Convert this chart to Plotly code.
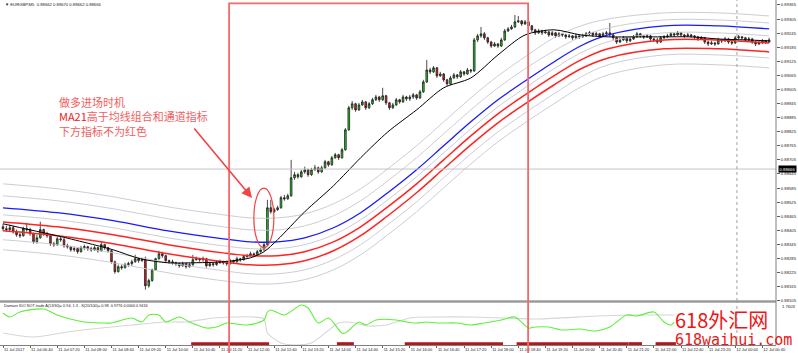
import plotly.graph_objects as go

# ---------------- data : EURGBP M5, 11 Jul 2017 06:00 -> 12 Jul 00:50 ----------------
bar_index = list(range(227))

opens = [
0.88420,0.88412,0.88408,0.88416,0.88399,0.88386,0.88382,0.88412,0.88408,0.88391,
0.88356,0.88373,0.88408,0.88391,0.88382,0.88348,0.88344,0.88369,0.88365,0.88339,
0.88335,0.88322,0.88327,0.88314,0.88331,0.88335,0.88327,0.88322,0.88331,0.88318,
0.88344,0.88331,0.88318,0.88271,0.88229,0.88250,0.88246,0.88259,0.88263,0.88271,
0.88284,0.88276,0.88280,0.88169,0.88191,0.88237,0.88284,0.88305,0.88297,0.88276,
0.88271,0.88267,0.88263,0.88254,0.88263,0.88250,0.88259,0.88280,0.88284,0.88280,
0.88284,0.88254,0.88263,0.88259,0.88267,0.88271,0.88267,0.88263,0.88276,0.88271,
0.88284,0.88280,0.88293,0.88297,0.88305,0.88301,0.88314,0.88322,0.88344,0.88501,
0.88484,0.88493,0.88501,0.88544,0.88539,0.88552,0.88629,0.88642,0.88633,0.88654,
0.88663,0.88642,0.88663,0.88671,0.88654,0.88671,0.88697,0.88684,0.88714,0.88727,
0.88714,0.88748,0.88833,0.88927,0.88944,0.88918,0.88939,0.88952,0.88927,0.88944,
0.88961,0.88973,0.88961,0.88978,0.88948,0.88927,0.88939,0.88961,0.88952,0.88973,
0.88965,
0.88973,0.88982,0.88969,0.88995,0.89037,0.89088,0.89080,0.89097,0.89063,0.89071,
0.89046,0.89029,0.89054,0.89067,0.89059,0.89080,0.89071,0.89088,0.89084,0.89216,
0.89233,0.89242,0.89225,0.89207,0.89190,0.89199,0.89190,0.89216,0.89254,0.89263,
0.89271,0.89293,0.89297,0.89284,0.89293,0.89276,0.89259,0.89246,0.89254,0.89246,
0.89250,0.89237,0.89246,0.89233,0.89242,0.89237,0.89229,0.89233,0.89225,0.89233,
0.89229,0.89233,0.89242,0.89246,0.89237,0.89242,0.89233,0.89242,0.89246,0.89237,
0.89225,0.89207,0.89216,0.89225,0.89212,0.89220,0.89229,0.89242,0.89233,0.89229,
0.89233,
0.89220,
0.89216,0.89207,0.89225,0.89229,0.89233,0.89242,0.89237,0.89246,0.89237,0.89233,
0.89237,0.89233,0.89229,0.89220,0.89225,0.89207,0.89199,0.89203,0.89199,0.89216,
0.89212,0.89220,0.89207,0.89203,0.89225,0.89229,0.89225,0.89216,0.89220,0.89207,
0.89199,0.89203,0.89212,0.89207]

highs = [
0.88433,0.88425,0.88429,0.88425,0.88408,0.88395,0.88420,0.88437,0.88416,0.88395,
0.88386,0.88442,0.88412,0.88399,0.88386,0.88356,0.88378,0.88382,0.88373,0.88348,
0.88339,0.88335,0.88331,0.88339,0.88344,0.88339,0.88335,0.88339,0.88335,0.88356,
0.88348,0.88335,0.88322,0.88276,0.88259,0.88259,0.88267,0.88271,0.88280,0.88301,
0.88288,0.88288,0.88293,0.88199,0.88242,0.88288,0.88318,0.88314,0.88301,0.88280,
0.88280,0.88271,0.88267,0.88271,0.88267,0.88267,0.88301,0.88293,0.88288,0.88293,
0.88288,0.88271,0.88267,0.88276,0.88280,0.88276,0.88276,0.88284,0.88280,0.88293,
0.88288,0.88301,0.88305,0.88314,0.88310,0.88322,0.88331,0.88352,0.88535,0.88535,
0.88501,0.88510,0.88552,0.88556,0.88561,0.88705,0.88654,0.88650,0.88663,0.88676,
0.88667,0.88671,0.88684,0.88676,0.88680,0.88705,0.88701,0.88722,0.88735,0.88731,
0.88756,0.88841,0.88935,0.88956,0.88948,0.88948,0.88961,0.88956,0.88952,0.88969,
0.88982,0.88978,0.89012,0.88982,0.88952,0.88948,0.88969,0.88965,0.88982,0.88978,
0.88982,
0.88990,0.88986,0.89003,0.89046,0.89131,0.89097,0.89105,0.89101,0.89080,0.89075,
0.89050,0.89063,0.89075,0.89071,0.89088,0.89084,0.89097,0.89092,0.89225,0.89242,
0.89271,0.89250,0.89229,0.89212,0.89207,0.89203,0.89225,0.89263,0.89271,0.89280,
0.89322,0.89318,0.89301,0.89301,0.89297,0.89280,0.89263,0.89263,0.89259,0.89259,
0.89254,0.89254,0.89250,0.89250,0.89246,0.89242,0.89242,0.89237,0.89242,0.89237,
0.89242,0.89250,0.89254,0.89250,0.89250,0.89246,0.89250,0.89254,0.89288,0.89242,
0.89229,0.89225,0.89233,0.89229,0.89229,0.89237,0.89250,0.89246,0.89237,0.89242,
0.89237,
0.89225,
0.89225,0.89233,0.89237,0.89242,0.89250,0.89246,0.89254,0.89250,0.89242,0.89246,
0.89242,0.89237,0.89233,0.89233,0.89229,0.89212,0.89212,0.89207,0.89225,0.89220,
0.89229,0.89225,0.89212,0.89233,0.89237,0.89233,0.89229,0.89229,0.89225,0.89212,
0.89212,0.89220,0.89216,0.89225]

lows = [
0.88403,0.88399,0.88399,0.88391,0.88378,0.88373,0.88378,0.88399,0.88382,0.88348,
0.88348,0.88369,0.88382,0.88373,0.88339,0.88335,0.88339,0.88356,0.88331,0.88327,
0.88314,0.88314,0.88305,0.88310,0.88322,0.88318,0.88314,0.88318,0.88310,0.88314,
0.88322,0.88310,0.88263,0.88220,0.88225,0.88237,0.88242,0.88250,0.88254,0.88267,
0.88267,0.88271,0.88152,0.88161,0.88186,0.88233,0.88280,0.88288,0.88267,0.88263,
0.88259,0.88254,0.88246,0.88250,0.88242,0.88246,0.88254,0.88276,0.88271,0.88271,
0.88246,0.88250,0.88250,0.88254,0.88263,0.88259,0.88254,0.88259,0.88263,0.88267,
0.88271,0.88276,0.88288,0.88293,0.88293,0.88297,0.88310,0.88318,0.88339,0.88476,
0.88480,0.88488,0.88497,0.88531,0.88535,0.88548,0.88620,0.88625,0.88629,0.88646,
0.88633,0.88637,0.88659,0.88646,0.88650,0.88667,0.88676,0.88680,0.88710,0.88705,
0.88710,0.88744,0.88829,0.88918,0.88910,0.88914,0.88935,0.88918,0.88922,0.88939,
0.88956,0.88952,0.88956,0.88939,0.88918,0.88922,0.88935,0.88944,0.88948,0.88956,
0.88956,
0.88965,0.88961,0.88965,0.88990,0.89033,0.89071,0.89075,0.89054,0.89059,0.89037,
0.89020,0.89024,0.89050,0.89050,0.89054,0.89063,0.89067,0.89075,0.89080,0.89207,
0.89225,0.89216,0.89199,0.89182,0.89186,0.89182,0.89186,0.89212,0.89250,0.89259,
0.89267,0.89288,0.89276,0.89280,0.89267,0.89250,0.89237,0.89242,0.89237,0.89242,
0.89229,0.89233,0.89225,0.89229,0.89229,0.89220,0.89225,0.89216,0.89220,0.89220,
0.89225,0.89229,0.89237,0.89229,0.89233,0.89225,0.89229,0.89237,0.89229,0.89216,
0.89199,0.89203,0.89212,0.89203,0.89207,0.89216,0.89225,0.89225,0.89220,0.89225,
0.89212,
0.89207,
0.89199,0.89203,0.89220,0.89225,0.89229,0.89229,0.89233,0.89229,0.89225,0.89229,
0.89225,0.89220,0.89212,0.89216,0.89199,0.89190,0.89195,0.89190,0.89195,0.89203,
0.89207,0.89199,0.89195,0.89199,0.89220,0.89216,0.89207,0.89212,0.89199,0.89190,
0.89195,0.89199,0.89199,0.89203]

closes = [
0.88412,0.88408,0.88416,0.88399,0.88386,0.88382,0.88412,0.88408,0.88391,0.88356,
0.88373,0.88408,0.88391,0.88382,0.88348,0.88344,0.88369,0.88365,0.88339,0.88335,
0.88322,0.88327,0.88314,0.88331,0.88335,0.88327,0.88322,0.88331,0.88318,0.88344,
0.88331,0.88318,0.88271,0.88229,0.88250,0.88246,0.88259,0.88263,0.88271,0.88284,
0.88276,0.88280,0.88169,0.88191,0.88237,0.88284,0.88305,0.88297,0.88276,0.88271,
0.88267,0.88263,0.88254,0.88263,0.88250,0.88259,0.88280,0.88284,0.88280,0.88284,
0.88254,0.88263,0.88259,0.88267,0.88271,0.88267,0.88263,0.88276,0.88271,0.88284,
0.88280,0.88293,0.88297,0.88305,0.88301,0.88314,0.88322,0.88344,0.88501,0.88484,
0.88493,0.88501,0.88544,0.88539,0.88552,0.88629,0.88642,0.88633,0.88654,0.88663,
0.88642,0.88663,0.88671,0.88654,0.88671,0.88697,0.88684,0.88714,0.88727,0.88714,
0.88748,0.88833,0.88927,0.88944,0.88918,0.88939,0.88952,0.88927,0.88944,0.88961,
0.88973,0.88961,0.88978,0.88948,0.88927,0.88939,0.88961,0.88952,0.88973,0.88965,
0.88973,
0.88982,0.88969,0.88995,0.89037,0.89088,0.89080,0.89097,0.89063,0.89071,0.89046,
0.89029,0.89054,0.89067,0.89059,0.89080,0.89071,0.89088,0.89084,0.89216,0.89233,
0.89242,0.89225,0.89207,0.89190,0.89199,0.89190,0.89216,0.89254,0.89263,0.89271,
0.89293,0.89297,0.89284,0.89293,0.89276,0.89259,0.89246,0.89254,0.89246,0.89250,
0.89237,0.89246,0.89233,0.89242,0.89237,0.89229,0.89233,0.89225,0.89233,0.89229,
0.89233,0.89242,0.89246,0.89237,0.89242,0.89233,0.89242,0.89246,0.89237,0.89225,
0.89207,0.89216,0.89225,0.89212,0.89220,0.89229,0.89242,0.89233,0.89229,0.89233,
0.89220,
0.89216,
0.89207,0.89225,0.89229,0.89233,0.89242,0.89237,0.89246,0.89237,0.89233,0.89237,
0.89233,0.89229,0.89220,0.89225,0.89207,0.89199,0.89203,0.89199,0.89216,0.89212,
0.89220,0.89207,0.89203,0.89225,0.89229,0.89225,0.89216,0.89220,0.89207,0.89199,
0.89203,0.89212,0.89207,0.89216]

# channel / MA-ribbon lines sampled along the chart (bar index)
line_idx = [0, 16, 32.5, 48.7, 65, 73, 81, 89, 97.5, 105.5, 113.5, 122, 130, 138, 146,
            154, 162.5, 170.5, 178.5, 195, 211, 226]
grey_1 = [0.88603,0.88582,0.88548,0.88505,0.88471,0.88458,0.88458,0.88475,0.88518,0.88582,0.88667,
          0.88765,0.88867,0.88969,0.89063,0.89144,0.89225,0.89276,0.89305,0.89331,0.89331,0.89318]
grey_2 = [0.88552,0.88531,0.88497,0.88454,0.88420,0.88407,0.88407,0.88424,0.88467,0.88531,0.88616,
          0.88714,0.88816,0.88918,0.89012,0.89093,0.89169,0.89229,0.89267,0.89301,0.89301,0.89288]
blue_ma = [0.88501,0.88480,0.88446,0.88403,0.88369,0.88356,0.88356,0.88373,0.88416,0.88480,0.88565,
           0.88663,0.88765,0.88867,0.88961,0.89041,0.89122,0.89191,0.89237,0.89276,0.89276,0.89263]
grey_3 = [0.88471,0.88450,0.88416,0.88373,0.88339,0.88327,0.88327,0.88344,0.88386,0.88450,0.88535,
          0.88633,0.88735,0.88837,0.88931,0.89012,0.89093,0.89161,0.89208,0.89246,0.89246,0.89233]
red_1 = [0.88441,0.88420,0.88386,0.88344,0.88309,0.88297,0.88297,0.88314,0.88356,0.88420,0.88505,
         0.88603,0.88705,0.88807,0.88901,0.88982,0.89063,0.89131,0.89178,0.89216,0.89216,0.89203]
red_2 = [0.88403,0.88382,0.88348,0.88305,0.88271,0.88258,0.88258,0.88275,0.88318,0.88382,0.88467,
         0.88565,0.88667,0.88769,0.88863,0.88944,0.89024,0.89093,0.89139,0.89178,0.89178,0.89165]
grey_4 = [0.88365,0.88344,0.88309,0.88267,0.88233,0.88220,0.88220,0.88237,0.88280,0.88344,0.88429,
          0.88526,0.88629,0.88731,0.88824,0.88905,0.88986,0.89058,0.89110,0.89152,0.89152,0.89139]
grey_5 = [0.88322,0.88301,0.88267,0.88224,0.88190,0.88178,0.88178,0.88195,0.88237,0.88301,0.88386,
          0.88484,0.88586,0.88688,0.88782,0.88863,0.88944,0.89016,0.89067,0.89110,0.89110,0.89097]

ma21_idx = [0, 8, 16, 24.5, 32.5, 40.5, 48.5, 57, 65, 73, 77, 81, 89, 97.5, 105.5, 113.5, 122,
            130, 138, 146, 154, 162.5, 170.5, 178.5, 186.5, 195, 203, 211, 219, 226]
ma21 = [0.88433,0.88407,0.88382,0.88352,0.88322,0.88284,0.88267,0.88267,0.88271,0.88288,0.88314,
        0.88365,0.88484,0.88595,0.88714,0.88824,0.88918,0.89012,0.89054,0.89152,0.89237,0.89259,
        0.89237,0.89229,0.89229,0.89229,0.89229,0.89220,0.89216,0.89212]

bid_price = 0.88666

# Damiani indicator window
ido_green_idx = [0,2,5,12,16,24,29,32,38,41,43,46,48,52,55,60,63,66,72,77,78,79,83,88,90,93,96,
                 100,101,105,107,110,116,119,122,125,128,134,138,142,147,151,155,157,161,165,170,
                 175,179,184,187,192,195,197,198]
ido_green = [1.44,1.26,1.485,1.62,1.35,1.035,0.99,0.99,1.215,1.035,1.35,1.35,1.035,1.26,1.035,
             0.765,0.81,0.99,0.90,1.125,1.485,1.575,1.35,1.80,1.665,0.99,1.215,0.54,0.54,1.035,
             0.90,1.125,1.125,1.035,0.99,1.035,0.99,0.99,0.90,0.99,1.125,1.26,0.765,0.81,0.81,
             0.675,0.72,0.63,0.81,1.35,1.305,1.485,1.035,0.90,1.035]
ido_grey_idx = [0,9,19,29,38,48,54,62,68,74,77,78,82,86,91,99,102,108,113,120,128,138,148,158,
                175,185,198]
ido_grey = [0.54,0.36,0.585,0.765,0.90,1.035,1.035,1.215,1.26,1.26,1.17,0.54,0.09,0.0,0.09,0.99,
            1.035,0.855,0.90,1.215,1.26,1.26,1.215,1.17,1.305,1.35,1.35]
no_trade_spans = [(56, 78), (99, 103), (119, 147), (152, 184), (185, 188), (193, 198)]
no_trade_level = 0.06

tick_idx = list(range(0, 225, 8))
tick_text = ["11 Jul 2017", "11 Jul 06:40", "11 Jul 07:20", "11 Jul 08:00", "11 Jul 08:40",
             "11 Jul 09:20", "11 Jul 10:00", "11 Jul 10:40", "11 Jul 11:20", "11 Jul 12:00",
             "11 Jul 12:40", "11 Jul 13:20", "11 Jul 14:00", "11 Jul 14:40", "11 Jul 15:20",
             "11 Jul 16:00", "11 Jul 16:40", "11 Jul 17:20", "11 Jul 18:00", "11 Jul 18:40",
             "11 Jul 19:20", "11 Jul 20:00", "11 Jul 20:40", "11 Jul 21:20", "11 Jul 22:00",
             "11 Jul 22:40", "11 Jul 23:20", "12 Jul 00:00", "12 Jul 00:40"]
price_ticks = [0.88105, 0.88165, 0.88225, 0.88285, 0.88345, 0.88405, 0.88465, 0.88525, 0.88585,
               0.88645, 0.88705, 0.88765, 0.88825, 0.88885, 0.88945, 0.89005, 0.89065, 0.89125,
               0.89185, 0.89245, 0.89305, 0.89365]
day_separator_idx = 216.5

# ---------------- layout geometry ----------------
W, H = 798, 353
MR, MB = 22, 8
PW, PH = W - MR, H - MB
BAR_PX, FIRST_PX = 3.39, 3.0
XMIN = -FIRST_PX / BAR_PX
XMAX = (PW - FIRST_PX) / BAR_PX
MAIN_BOTTOM_PX = 301
IND_TOP_PX = 302
PRICE_RANGE = [0.88104, 0.89386]
IND_RANGE = [0, 1.935]
TINY = "Liberation Sans"
CJK = "Noto Sans CJK SC"


def py(ypx):
    return 1 - ypx / PH


def px(xpx):
    return xpx / PW


def xpaper(j):
    return (j - XMIN) / (XMAX - XMIN)


fig = go.Figure()

fig.add_trace(go.Candlestick(
    x=bar_index, open=opens, high=highs, low=lows, close=closes,
    increasing=dict(fillcolor="#22cc22", line=dict(color="#1e1e1e", width=0.8)),
    decreasing=dict(fillcolor="#e02020", line=dict(color="#1e1e1e", width=0.8)),
    whiskerwidth=0, showlegend=False, hoverinfo="skip", xaxis="x", yaxis="y"))

for series, color, width in [(grey_1, "#c6c6d2", 0.9), (grey_2, "#c6c6d2", 0.9),
                             (grey_3, "#c6c6d2", 0.9), (grey_4, "#c6c6d2", 0.9),
                             (grey_5, "#c6c6d2", 0.9), (blue_ma, "#1a1aff", 1.3),
                             (red_1, "#ff2424", 1.5), (red_2, "#ff2424", 1.5)]:
    fig.add_trace(go.Scatter(x=line_idx, y=series, mode="lines", showlegend=False,
                             hoverinfo="skip", xaxis="x", yaxis="y",
                             line=dict(color=color, width=width, shape="spline", smoothing=1.0)))

fig.add_trace(go.Scatter(x=ma21_idx, y=ma21, mode="lines", showlegend=False, hoverinfo="skip",
                         xaxis="x", yaxis="y",
                         line=dict(color="#000000", width=1.0, shape="spline", smoothing=0.8)))

# indicator window
fig.add_trace(go.Scatter(x=ido_grey_idx, y=ido_grey, mode="lines", showlegend=False,
                         hoverinfo="skip", xaxis="x", yaxis="y2",
                         line=dict(color="#d6d6d6", width=1.1, shape="spline", smoothing=0.7)))
fig.add_trace(go.Scatter(x=ido_green_idx, y=ido_green, mode="lines", showlegend=False,
                         hoverinfo="skip", xaxis="x", yaxis="y2",
                         line=dict(color="#5fef3a", width=1.1, shape="spline", smoothing=0.8)))
fx, fy = [], []
for a, b in no_trade_spans:
    fx += [a - 0.5, b + 0.5, None]
    fy += [no_trade_level, no_trade_level, None]
fig.add_trace(go.Scatter(x=fx, y=fy, mode="lines", showlegend=False, hoverinfo="skip",
                         xaxis="x", yaxis="y2", line=dict(color="#b5161b", width=3)))

shapes = [
    dict(type="line", xref="x", yref="y", x0=XMIN, x1=XMAX, y0=bid_price, y1=bid_price,
         line=dict(color="#c4c4c4", width=1)),
    dict(type="line", xref="x", yref="y", x0=day_separator_idx, x1=day_separator_idx,
         y0=PRICE_RANGE[0], y1=PRICE_RANGE[1], line=dict(color="#a0a0a0", width=1, dash="dot")),
    dict(type="line", xref="x", yref="y2", x0=day_separator_idx, x1=day_separator_idx,
         y0=IND_RANGE[0], y1=IND_RANGE[1], line=dict(color="#a0a0a0", width=1, dash="dot")),
    dict(type="line", xref="paper", yref="paper", x0=0, x1=1, y0=py(301.5), y1=py(301.5),
         line=dict(color="#9b9b9b", width=2.5)),
    dict(type="line", xref="paper", yref="paper", x0=1, x1=1, y0=0, y1=1,
         line=dict(color="#808080", width=1)),
    dict(type="rect", xref="paper", yref="paper", x0=xpaper(66.7), x1=xpaper(154.9),
         y0=py(358), y1=py(3.3), line=dict(color="#f06a6a", width=1.8),
         fillcolor="rgba(0,0,0,0)"),
    dict(type="circle", xref="x", yref="y", x0=74.0, x1=79.9, y0=0.88330, y1=0.88585,
         line=dict(color="#f04545", width=1.2)),
]

note_text = ("做多进场时机<br>"
             '<span style="color:#e82222">MA21</span>高于均线组合和通道指标<br>'
             "下方指标不为红色")
watermark_text = ('<span style="font-family:Noto Sans CJK SC;font-size:20px">618外汇网</span><br>'
                  '<span style="font-family:DejaVu Sans Mono;font-size:15px">618waihui.com</span>')

ann = [
    dict(xref="x", yref="y", x=73.45, y=0.88543, ax=-59, ay=-71, text="", showarrow=True,
         arrowhead=2, arrowsize=1.3, arrowwidth=1.6, arrowcolor="#f04545", standoff=0),
    dict(xref="paper", yref="paper", x=px(57), y=py(116.5), xanchor="left", yanchor="middle",
         align="left", text=note_text, showarrow=False,
         font=dict(family=CJK, size=11, color="#f26060")),
    dict(xref="paper", yref="paper", x=px(3), y=py(5), xanchor="left", yanchor="middle",
         text="▼ EURGBP,M5  0.88662 0.88670 0.88662 0.88666", showarrow=False,
         font=dict(family=TINY, size=4.2, color="#222222")),
    dict(xref="paper", yref="paper", x=px(2), y=py(305.5), xanchor="left", yanchor="middle",
         text="Damiani IDO NOT trade A(13/30)= 0.94, 1.3 - S(20/100)= 0.98  0.9776 0.0000 0.9416",
         showarrow=False, font=dict(family=TINY, size=3.8, color="#222222")),
    dict(xref="paper", yref="paper", x=1, y=py(306.5), xanchor="left", yanchor="middle",
         xshift=4, text="1.7603", showarrow=False, font=dict(family=TINY, size=4.2, color="#222222")),
    dict(xref="paper", yref="y", x=1, y=bid_price, xanchor="left", yanchor="middle", xshift=2,
         text="0.88666", showarrow=False, bgcolor="#000000", borderpad=0.6,
         font=dict(family=TINY, size=4.2, color="#ffffff")),
    dict(xref="paper", yref="paper", x=px(673), y=py(327), xanchor="left", yanchor="middle",
         align="left", text=watermark_text, showarrow=False,
         font=dict(family=CJK, size=13, color="#ee1515")),
]

fig.update_layout(
    width=W, height=H, margin=dict(l=0, r=MR, t=0, b=MB, autoexpand=False),
    paper_bgcolor="white", plot_bgcolor="white", showlegend=False,
    xaxis=dict(range=[XMIN, XMAX], domain=[0, 1], anchor="y2", tickvals=tick_idx,
               ticktext=tick_text, tickangle=0, ticks="outside", ticklen=2, tickcolor="#606060",
               tickfont=dict(family=TINY, size=4, color="#222222"),
               ticklabelposition="outside right", showgrid=False, zeroline=False,
               showline=True, linecolor="#808080", linewidth=1, automargin=False,
               rangeslider=dict(visible=False), fixedrange=True),
    yaxis=dict(domain=[py(MAIN_BOTTOM_PX), 1], range=PRICE_RANGE, side="right", anchor="x",
               tickvals=price_ticks, ticktext=[f"{v:.5f}" for v in price_ticks],
               ticks="outside", ticklen=3, tickcolor="#606060", automargin=False,
               tickfont=dict(family=TINY, size=4.2, color="#222222"),
               showgrid=False, zeroline=False, showline=False, fixedrange=True),
    yaxis2=dict(domain=[0, py(IND_TOP_PX)], range=IND_RANGE, anchor="x", visible=False,
                fixedrange=True),
    shapes=shapes, annotations=ann,
)

fig.write_html("out.html")
